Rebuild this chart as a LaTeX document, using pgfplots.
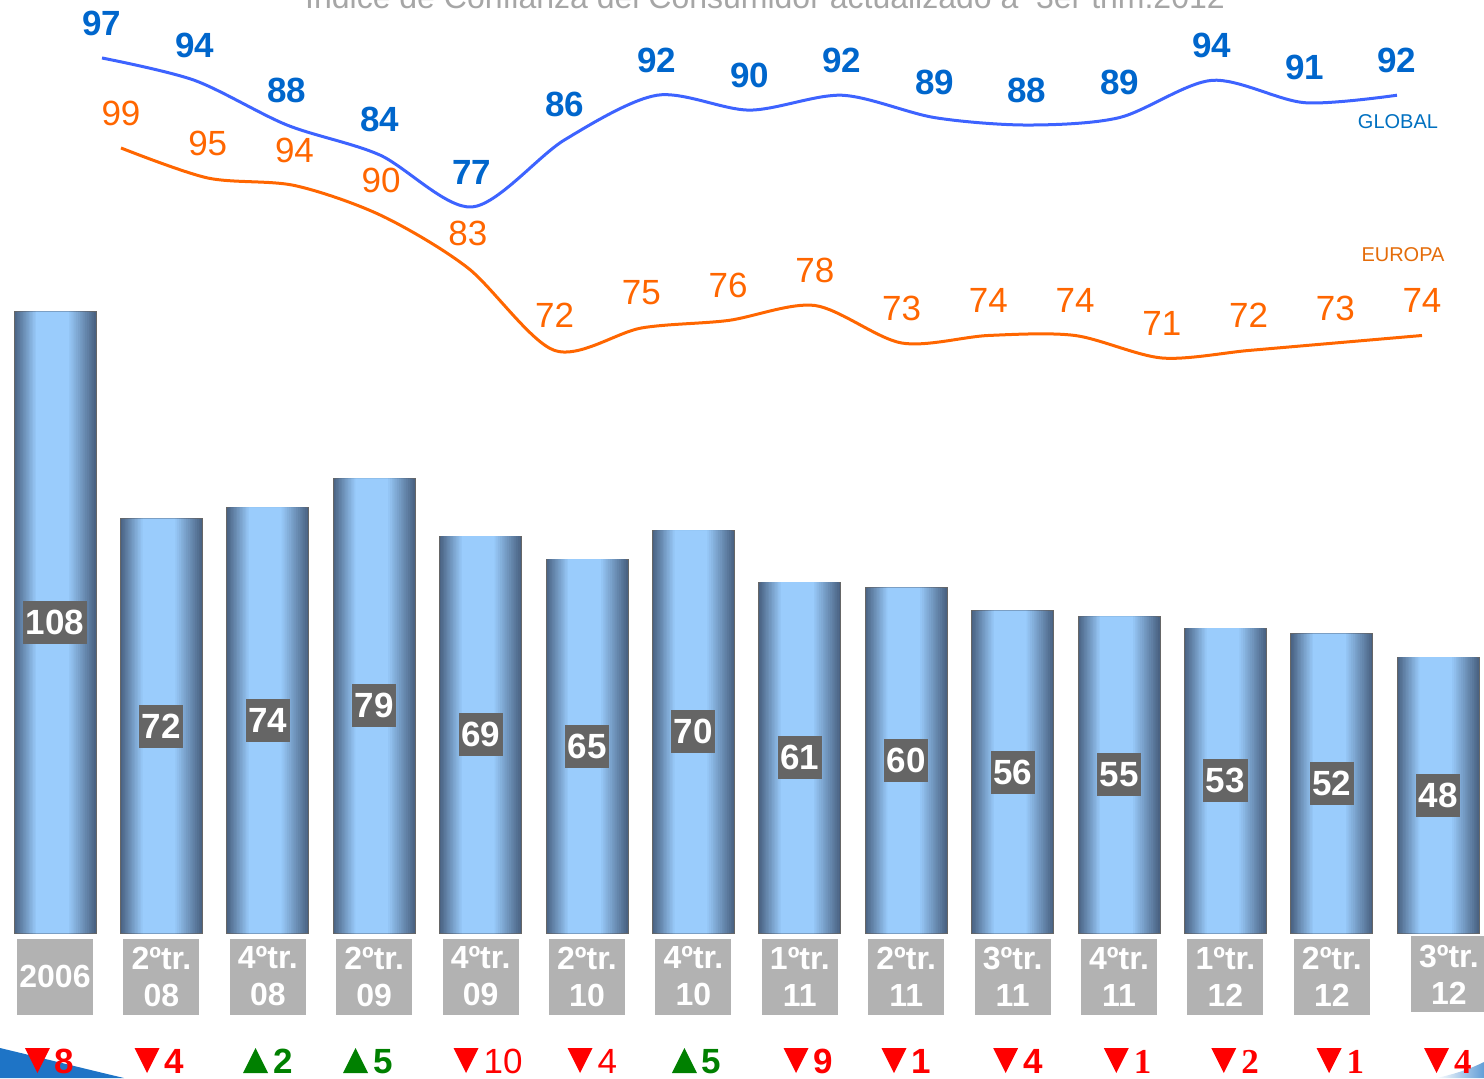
\documentclass[border=0pt]{standalone}
\usepackage{pgfplots}
\usepackage{pgfplotstable}
\pgfplotsset{compat=1.18}
\usepackage{fontspec}
\setmainfont{Liberation Sans}
\newfontfamily\serifb{Liberation Serif}
\definecolor{gblue}{HTML}{0066CC}
\definecolor{glineblue}{HTML}{3D63FF}
\definecolor{eorange}{HTML}{FF6600}
\definecolor{barDark}{HTML}{4A6383}
\definecolor{barLight}{HTML}{9ACCFC}
\definecolor{valbox}{HTML}{656565}
\definecolor{catbox}{HTML}{B2B2B2}
\definecolor{upgreen}{HTML}{008000}
\definecolor{titlegray}{HTML}{A6A6A6}
\definecolor{globtxt}{HTML}{0070C0}
\definecolor{eurtxt}{HTML}{E46C0A}
\definecolor{swoosh}{HTML}{1E74C6}
\newcommand\tdn{\tikz[baseline=0pt, reset cm, x=1pt, y=1pt]\fill[red] (0,12.5) -- (12.5,12.5) -- (6.25,0) -- cycle;\hspace{2.5pt}}
\newcommand\tup{\tikz[baseline=0pt, reset cm, x=1pt, y=1pt]\fill[upgreen] (0,0) -- (12.5,0) -- (6.25,12.5) -- cycle;\hspace{2.5pt}}
\newcommand\dnb[1]{\tdn\textcolor{red}{\bfseries#1}}
\newcommand\dnr[1]{\tdn\textcolor{red}{#1}}
\newcommand\upb[1]{\tup\textcolor{upgreen}{\bfseries#1}}
\newcommand\dns[1]{\tdn\textcolor{red}{\serifb\bfseries#1}}
\pgfplotstableread{
x v
0 108
1 72
2 74
3 79
4 69
5 65
6 70
7 61
8 60
9 56
10 55
11 53
12 52
13 48
}\bardata
\newcommand\barlayer[3]{\addplot[ybar, bar width=#1pt, bar shift=#3pt, fill=barLight!#2!barDark, draw=none] table[x=x,y=v] {\bardata};}
\pgfplotsset{base/.style={scale only axis, width=742pt, height=539pt, at={(0,0)}, anchor=south west, hide axis, clip=false}}
\begin{document}
\begin{tikzpicture}
\useasboundingbox (0,0) rectangle (742pt,539pt);
\clip (0,0) rectangle (742pt,539pt);
% decorative swooshes
\fill[swoosh] (0,0) -- (0,15pt) .. controls (25pt,9pt) and (45pt,4pt) .. (62pt,0) -- cycle;
\shade[left color=white, right color=swoosh!70] (718pt,0) .. controls (728pt,2pt) and (736pt,5pt) .. (742pt,8pt) -- (742pt,0) -- cycle;
% title (partially visible)
\node[anchor=base, text=titlegray, font=\fontsize{16pt}{19pt}\selectfont, inner sep=0pt] at (382.5pt,534.5pt) {Índice de Confianza del Consumidor actualizado a\ \ 3er trim.2012};
% bars
\begin{axis}[base, xmin=-0.5169, xmax=13.430, ymin=-25.217, ymax=162.26]
\addplot[ybar, bar width=41pt, bar shift=0pt, fill=barDark, draw=gray!80!black, line width=0.5pt] table[x=x,y=v] {\bardata};
\barlayer{39.36}{7}{-0.082}
\barlayer{37.72}{13}{-0.164}
\barlayer{36.08}{20}{-0.246}
\barlayer{34.44}{27}{-0.328}
\barlayer{32.80}{33}{-0.410}
\barlayer{31.16}{40}{-0.492}
\barlayer{29.52}{47}{-0.574}
\barlayer{27.88}{53}{-0.656}
\barlayer{26.24}{60}{-0.738}
\barlayer{24.60}{67}{-0.820}
\barlayer{22.96}{73}{-0.902}
\barlayer{21.32}{80}{-0.984}
\barlayer{19.68}{87}{-1.066}
\barlayer{18.04}{93}{-1.148}
\barlayer{16.40}{100}{-1.230}
\addplot[draw=none, mark=none, nodes near coords, point meta=explicit symbolic,
  every node near coord/.append style={anchor=center, fill=valbox, text=white, font=\fontsize{17.5pt}{20pt}\selectfont\bfseries, inner xsep=1.3pt, inner ysep=0pt, minimum height=21.5pt}]
  table[x=x, y expr=\thisrow{v}/2, meta=v] {\bardata};
\addplot[draw=none, mark=none, nodes near coords, point meta=explicit symbolic,
  every node near coord/.append style={anchor=center, fill=catbox, text=white, font=\fontsize{16pt}{18.5pt}\selectfont\bfseries, align=center, minimum width=38pt, minimum height=38pt, inner sep=0pt}]
  coordinates {(0,-7.565)[2006] (1,-7.565)[2ºtr.\\08] (2,-7.565)[4ºtr.\\08] (3,-7.565)[2ºtr.\\09] (4,-7.565)[4ºtr.\\09] (5,-7.565)[2ºtr.\\10] (6,-7.565)[4ºtr.\\10] (7,-7.565)[1ºtr.\\11] (8,-7.565)[2ºtr.\\11] (9,-7.565)[3ºtr.\\11] (10,-7.565)[4ºtr.\\11] (11,-7.565)[1ºtr.\\12] (12,-7.565)[2ºtr.\\12] (13.1,-7.2)[3ºtr.\\12]};
\addplot[draw=none, mark=none, nodes near coords, point meta=explicit symbolic,
  every node near coord/.append style={anchor=base, font=\fontsize{17.5pt}{20pt}\selectfont, inner sep=0pt}]
  coordinates {(-0.05,-24.35)[\dnb{8}] (0.98,-24.35)[\dnb{4}] (2,-24.35)[\upb{2}] (2.94,-24.35)[\upb{5}] (4.07,-24.35)[\dnr{10}] (5.05,-24.35)[\dnr{4}] (6.03,-24.35)[\upb{5}] (7.08,-24.35)[\dnb{9}] (8,-24.35)[\dnb{1}] (9.05,-24.35)[\dnb{4}] (10.08,-24.35)[\dns{1}] (11.09,-24.35)[\dns{2}] (12.08,-24.35)[\dns{1}] (13.09,-24.35)[\dns{4}]};
\end{axis}
% GLOBAL line
\begin{axis}[base, xmin=-1.1027, xmax=14.941, ymin=-39.913, ymax=104.785]
\addplot[glineblue, line width=1.5pt, smooth, mark=none, nodes near coords, point meta=explicit symbolic,
  every node near coord/.append style={anchor=center, yshift=17.5pt, text=gblue, font=\fontsize{17.5pt}{20pt}\selectfont\bfseries, inner sep=0pt}]
  table[x=x, y=y, meta=y] {
x y
0 97
1 94
2 88
3 84
4 77
5 86
6 92
7 90
8 92
9 89
10 88
11 89
12 94
13 91
14 92
};
\end{axis}
% EUROPA line
\begin{axis}[base, xmin=-1.3951, xmax=15.715, ymin=-25, ymax=118.733]
\addplot[eorange, line width=1.5pt, smooth, mark=none, nodes near coords, point meta=explicit symbolic,
  every node near coord/.append style={anchor=center, yshift=17.5pt, text=eorange, font=\fontsize{17.5pt}{20pt}\selectfont, inner sep=0pt}]
  table[x=x, y=y, meta=y] {
x y
0 99
1 95
2 94
3 90
4 83
5 72
6 75
7 76
8 78
9 73
10 74
11 74
12 71
13 72
14 73
15 74
};
\end{axis}
\node[text=globtxt, font=\fontsize{10pt}{12pt}\selectfont] at (699pt,478pt) {GLOBAL};
\node[text=eurtxt, font=\fontsize{10pt}{12pt}\selectfont] at (701.5pt,411.5pt) {EUROPA};
\end{tikzpicture}
\end{document}
